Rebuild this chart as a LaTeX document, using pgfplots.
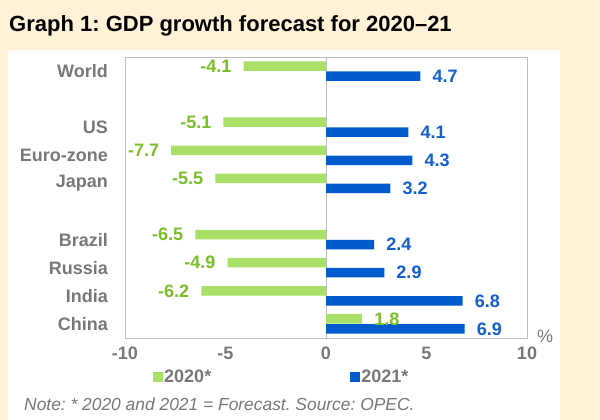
\documentclass[border=0pt]{standalone}
\usepackage{fontspec}
\setmainfont{Liberation Sans}
\usepackage{pgfplots}
\pgfplotsset{compat=1.18}
\definecolor{cream}{RGB}{255,242,214}
\definecolor{bargreen}{RGB}{168,224,104}
\definecolor{txtgreen}{RGB}{122,190,40}
\definecolor{barblue}{RGB}{0,92,204}
\definecolor{txtblue}{RGB}{20,95,205}
\definecolor{txtgray}{RGB}{120,120,120}
\definecolor{framegray}{RGB}{190,190,190}
\newcommand\lbl{\fontsize{18}{20}\selectfont\bfseries}
\frenchspacing

\begin{document}
\begin{tikzpicture}
\useasboundingbox (0,0) rectangle (600pt,420pt);
\fill[cream] (0,0) rectangle (600pt,420pt);
\fill[white] (8pt,0) rectangle (560pt,370pt);
\node[anchor=base west,inner sep=0pt,font=\fontsize{22}{24}\selectfont\bfseries]
  at (9pt,388pt) {Graph 1: GDP growth forecast for 2020–21};
\node[anchor=base west,inner sep=0pt,text=txtgray,font=\fontsize{17.4}{20}\selectfont\itshape]
  at (24pt,9pt) {Note: * 2020 and 2021 = Forecast. Source: OPEC.};

\begin{axis}[
  at={(125pt,82pt)}, anchor=south west,
  scale only axis, width=402pt, height=281pt,
  xbar, bar width=9.5pt,
  xmin=-10, xmax=10, ymin=-0.5, ymax=9.5,
  xtick={-10,-5,0,5,10}, xticklabels={-10,-5,0,5,10},
  ytick={9,7,6,5,3,2,1,0},
  yticklabels={World,US,Euro-zone,Japan,Brazil,Russia,India,China},
  major tick length=0pt,
  axis line style={draw=framegray},
  extra x ticks={0}, extra x tick labels={},
  extra x tick style={grid=major, major grid style={draw=framegray}},
  tick label style={font=\lbl, text=txtgray, inner sep=0pt},
  xticklabel style={yshift=-9pt},
  yticklabel style={xshift=-17pt},
  point meta=explicit symbolic,
  visualization depends on={rawx \as \rawx},
  nodes near coords,
  every node near coord/.append style={font=\lbl, inner xsep=12pt},
  every node near coord/.append code={%
    \ifdim\rawx pt<0pt \pgfkeysalso{anchor=east}\else\pgfkeysalso{anchor=west}\fi},
  legend style={at={(0.0697,-0.139)}, anchor=west, draw=none, fill=none,
    inner sep=0pt, legend columns=2, font=\lbl, text=txtgray,
    nodes={inner sep=1pt},
    /tikz/every even column/.append style={column sep=138pt}},
  legend image code/.code={\fill[#1] (0pt,-5pt) rectangle (10pt,5pt);},
  clip=false,
]
\addplot[draw=none, fill=bargreen, bar shift=5pt,
  every node near coord/.append style={text=txtgreen}]
  coordinates {(-4.1,9) [-4.1] (-5.1,7) [-5.1] (-7.7,6) [-7.7] (-5.5,5) [-5.5]
               (-6.5,3) [-6.5] (-4.9,2) [-4.9] (-6.2,1) [-6.2] (1.8,0) [1.8]};
\addlegendentry{2020*}
\addplot[draw=none, fill=barblue, bar shift=-5pt,
  every node near coord/.append style={text=txtblue}]
  coordinates {(4.7,9) [4.7] (4.1,7) [4.1] (4.3,6) [4.3] (3.2,5) [3.2]
               (2.4,3) [2.4] (2.9,2) [2.9] (6.8,1) [6.8] (6.9,0) [6.9]};
\addlegendentry{2021*}
\node[anchor=center, text=txtgray, font=\fontsize{18}{20}\selectfont]
  at (rel axis cs:1,0) [xshift=18pt, yshift=2pt] {\%};
\end{axis}
\end{tikzpicture}
\end{document}
